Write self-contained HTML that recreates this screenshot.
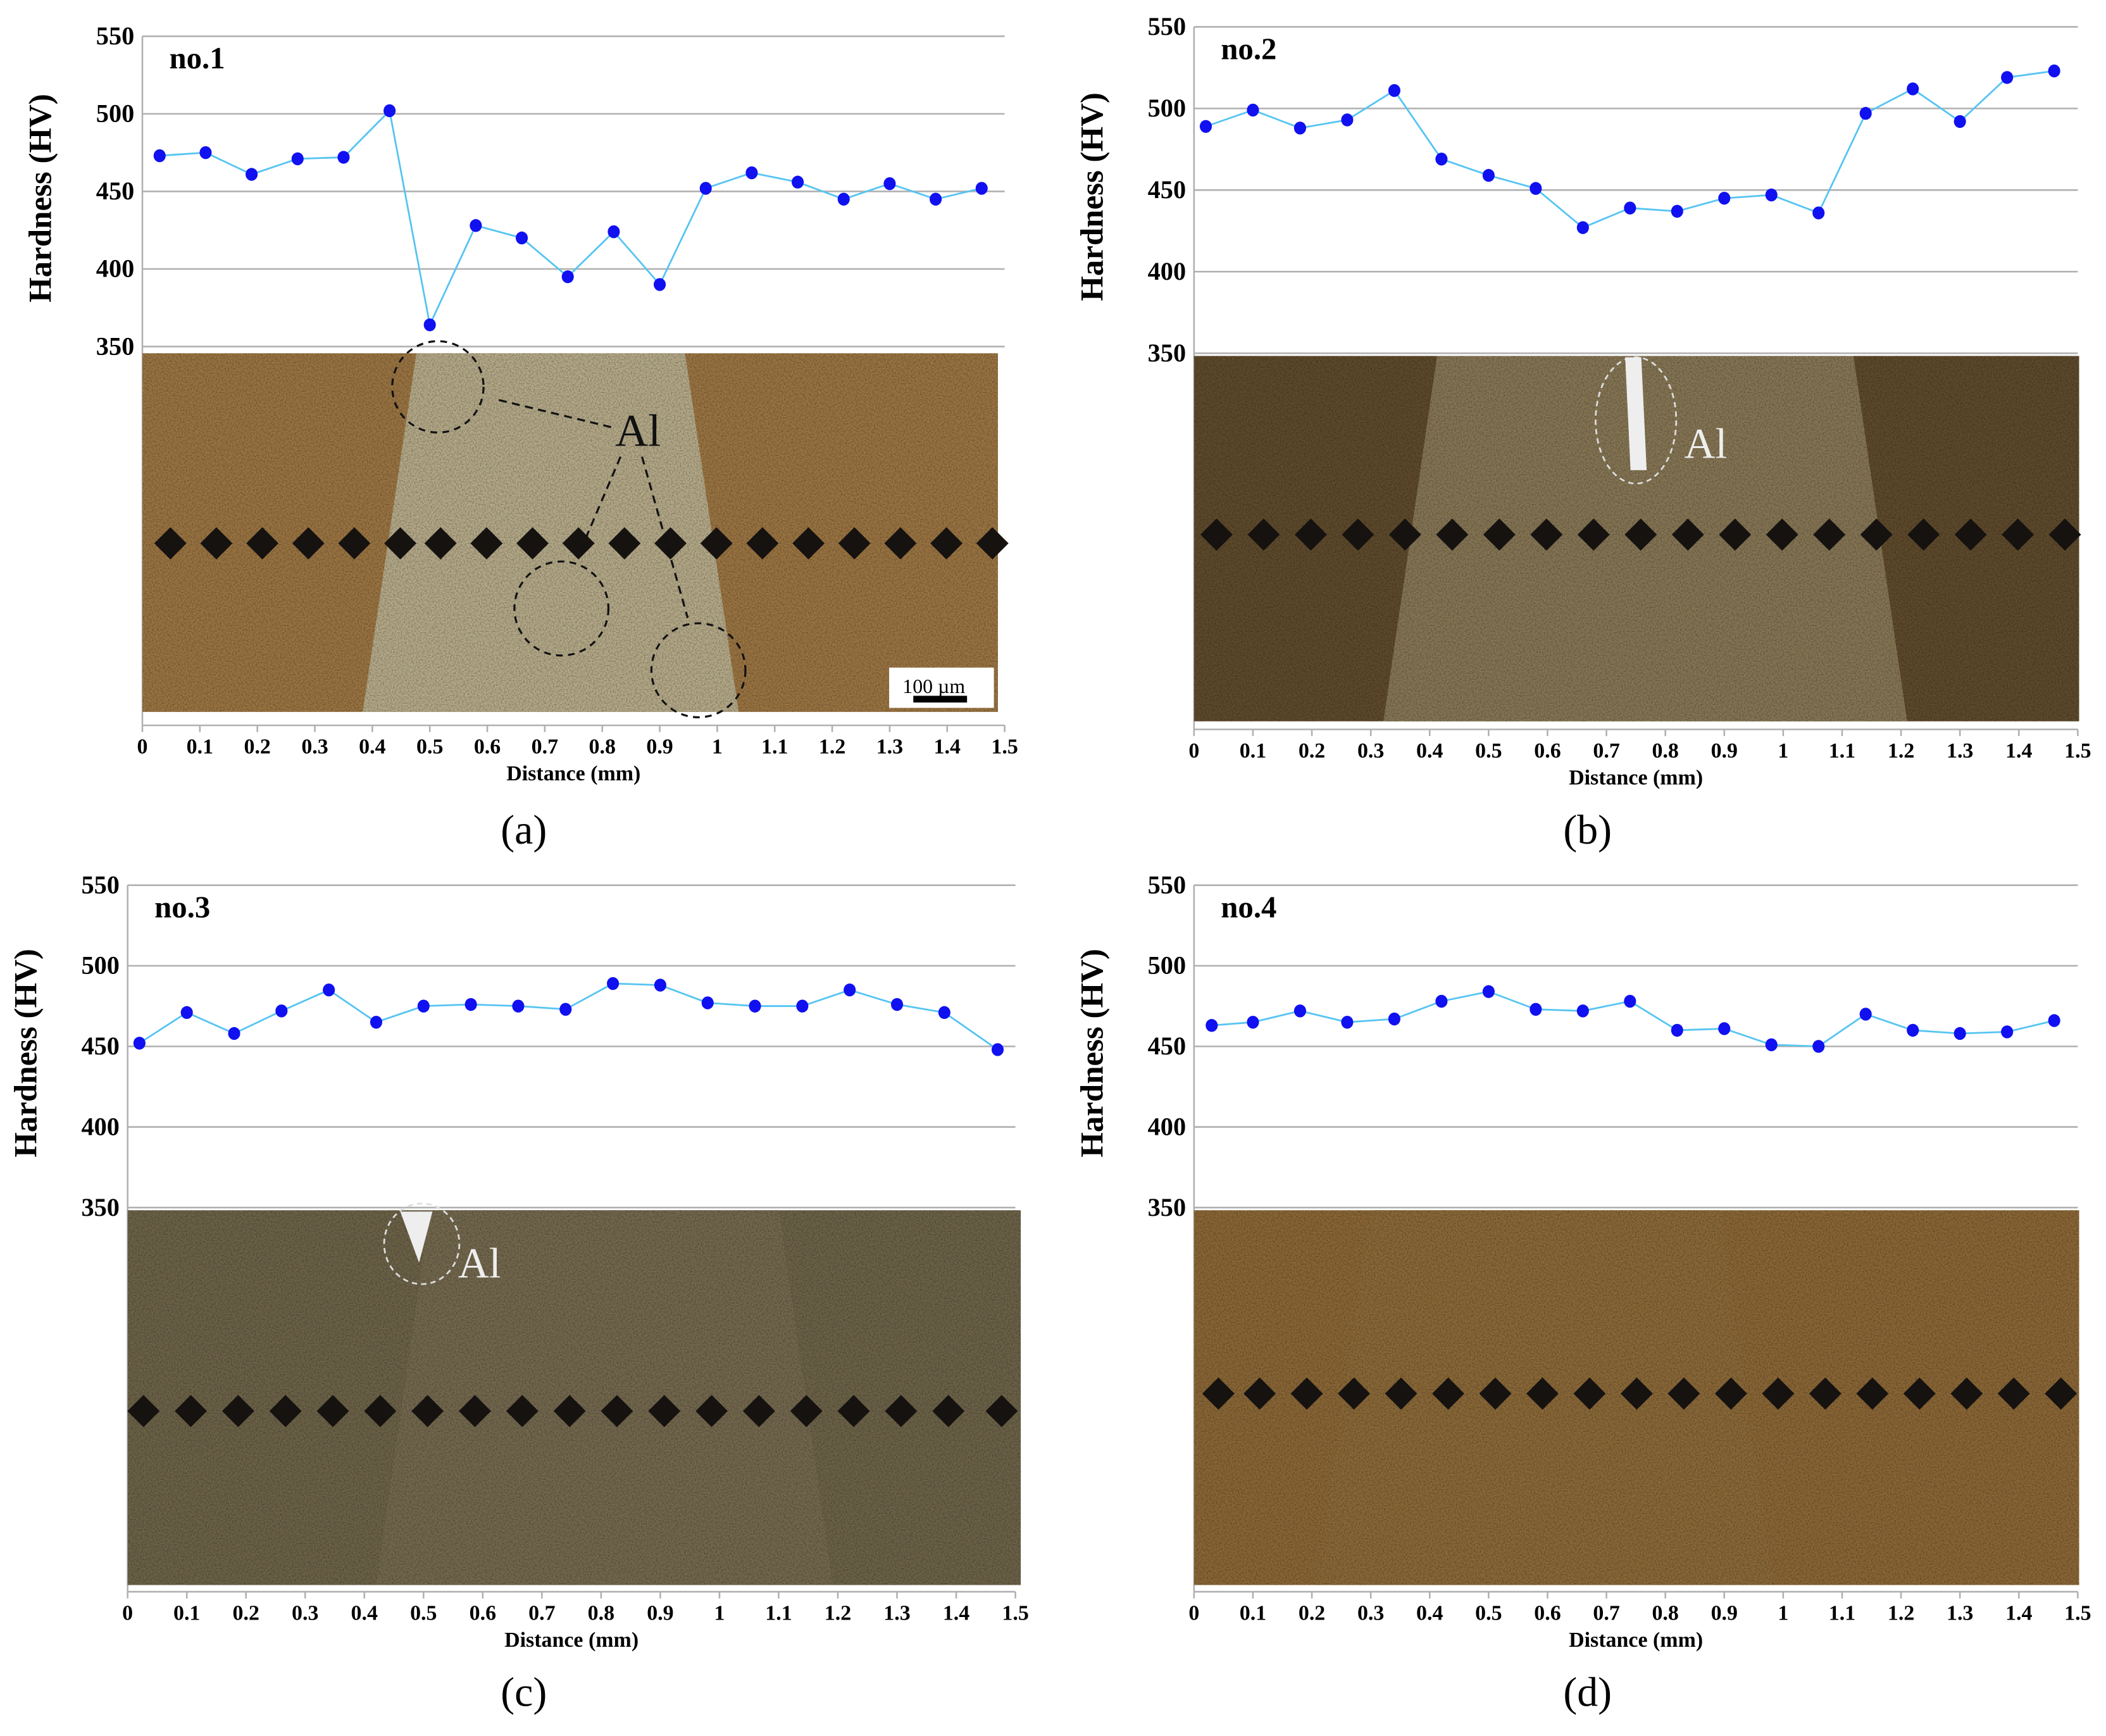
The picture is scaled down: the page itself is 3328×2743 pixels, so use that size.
<!DOCTYPE html>
<html><head><meta charset="utf-8"><style>
html,body{margin:0;padding:0;background:#fff;}
svg{display:block;}
text{font-family:"Liberation Serif",serif;}
</style></head><body>
<svg id="fig" width="3328" height="2743" viewBox="0 0 1568 1292.4" xmlns="http://www.w3.org/2000/svg">
<defs>
<filter id="grain" x="0" y="0" width="100%" height="100%">
<feTurbulence type="fractalNoise" baseFrequency="0.9" numOctaves="2" seed="3"/>
<feColorMatrix type="matrix" values="0 0 0 0 0  0 0 0 0 0  0 0 0 0 0  0 0 0 1.2 -0.45"/>
<feComposite in2="SourceGraphic" operator="in"/>
</filter>
</defs>
</svg>
<script>
// Panel (a)
const xsA=[0.03,0.11,0.19,0.27,0.35,0.43,0.5,0.58,0.66,0.74,0.82,0.9,0.98,1.06,1.14,1.22,1.3,1.38,1.46];
const valsA=[473,475,461,471,472,502,364,428,420,395,424,390,452,462,456,445,455,445,452];
// Panel (b)
const xsB=[0.02,0.1,0.18,0.26,0.34,0.42,0.5,0.58,0.66,0.74,0.82,0.9,0.98,1.06,1.14,1.22,1.3,1.38,1.46];
const valsB=[489,499,488,493,511,469,459,451,427,439,437,445,447,436,497,512,492,519,523];
// Panel (c)
const xsC=[0.02,0.1,0.18,0.26,0.34,0.42,0.5,0.58,0.66,0.74,0.82,0.9,0.98,1.06,1.14,1.22,1.3,1.38,1.47];
const valsC=[452,471,458,472,485,465,475,476,475,473,489,488,477,475,475,485,476,471,448];
// Panel (d)
const xsD=[0.03,0.1,0.18,0.26,0.34,0.42,0.5,0.58,0.66,0.74,0.82,0.9,0.98,1.06,1.14,1.22,1.3,1.38,1.46];
const valsD=[463,465,472,465,467,478,484,473,472,478,460,461,451,450,470,460,458,459,466];
const yTicks=[550,500,450,400,350];
const xTicks=["0","0.1","0.2","0.3","0.4","0.5","0.6","0.7","0.8","0.9","1","1.1","1.2","1.3","1.4","1.5"];

const NS="http://www.w3.org/2000/svg";
const svg=document.getElementById('fig');
function el(tag,attrs,parent,txt){const e=document.createElementNS(NS,tag);for(const k in attrs)e.setAttribute(k,attrs[k]);if(txt!==undefined)e.textContent=txt;(parent||svg).appendChild(e);return e;}

const panels=[
 {id:'a',title:'no.1',xs:xsA,vals:valsA,x0:106,x1:748,yTop:27,yBot:258,photo:[106,263,743,530],axisY:540,base:'#9a7442',light:'#b8b394',lightX:[290,530],cap:[390,628],dOff:8,dShift:8},
 {id:'b',title:'no.2',xs:xsB,vals:valsB,x0:889,x1:1547,yTop:20,yBot:263,photo:[889,265,1548,537],axisY:543,base:'#5e4a2c',light:'#8c7c5c',lightX:[1050,1400],cap:[1182,628],dOff:-3,dShift:8},
 {id:'c',title:'no.3',xs:xsC,vals:valsC,x0:95,x1:756,yTop:659,yBot:899,photo:[95,901,760,1180],axisY:1185,base:'#6c6248',light:'#746a50',lightX:[300,600],cap:[390,1270],dOff:10,dShift:3},
 {id:'d',title:'no.4',xs:xsD,vals:valsD,x0:889,x1:1547,yTop:659,yBot:899,photo:[889,901,1548,1180],axisY:1185,base:'#8a6636',light:'#8a6838',lightX:[1000,1300],cap:[1182,1270],dOff:-3,dShift:5}
];

panels.forEach(p=>{
 const g=el('g',{});
 
 
 const xS=v=>p.x0+(v/1.5)*(p.x1-p.x0);
 const yS=v=>p.yBot-(v-350)/200*(p.yBot-p.yTop);
 yTicks.forEach(t=>{
  const l=el('line',{x1:p.x0,x2:p.x1,y1:yS(t),y2:yS(t),stroke:'#b0b0b0','stroke-width':1.2},g);
  
  
  const tx=el('text',{x:p.x0-6,y:yS(t)+6,'text-anchor':'end','font-size':19,'font-weight':'bold'},g,String(t));
  
  
 });
 el('line',{x1:p.x0,x2:p.x0,y1:p.yTop,y2:p.axisY,stroke:'#b0b0b0','stroke-width':1.2},g);
 const [px0,py0,px1,py1]=p.photo;
 const ph=el('g',{},g);
 
 
 el('rect',{x:px0,y:py0,width:px1-px0,height:py1-py0,fill:p.base},ph);
 el('polygon',{points:`${p.lightX[0]+20},${py0} ${p.lightX[1]-20},${py0} ${p.lightX[1]+20},${py1} ${p.lightX[0]-20},${py1}`,fill:p.light,opacity:0.85},ph);
 el('rect',{x:px0,y:py0,width:px1-px0,height:py1-py0,fill:'#000',filter:'url(#grain)',opacity:0.5},ph);
 const dy=(py0+py1)/2+p.dOff;
 p.xs.forEach(x=>{
  const cx=xS(x)+p.dShift,s=12;
  const d=el('polygon',{points:`${cx},${dy-s} ${cx+s},${dy} ${cx},${dy+s} ${cx-s},${dy}`,fill:'#151210'},ph);
  
  
 });
 el('line',{x1:p.x0,x2:p.x1,y1:p.axisY,y2:p.axisY,stroke:'#b0b0b0','stroke-width':1.2},g);
 xTicks.forEach((t,i)=>{
  const x=xS(i*0.1);
  el('line',{x1:x,x2:x,y1:p.axisY,y2:p.axisY+5,stroke:'#b0b0b0','stroke-width':1.2},g);
  const tx=el('text',{x:x,y:p.axisY+21,'text-anchor':'middle','font-size':16,'font-weight':'bold'},g,t);
  
  
 });
 const xt=el('text',{x:(p.x0+p.x1)/2,y:p.axisY+41,'text-anchor':'middle','font-size':16,'font-weight':'bold'},g,'Distance  (mm)');
 
 
 const ytx=p.x0-68, yty=(p.yTop+p.yBot)/2+5;
 const yt=el('text',{x:ytx,y:yty,'text-anchor':'middle','font-size':24,'font-weight':'bold',transform:`rotate(-90 ${ytx} ${yty})`},g,'Hardness (HV)');
 
 
 const ti=el('text',{x:p.x0+20,y:p.yTop+24,'font-size':23,'font-weight':'bold'},g,p.title);
 
 
 const pts=p.xs.map((x,i)=>xS(x)+','+yS(p.vals[i])).join(' ');
 const pl=el('polyline',{points:pts,fill:'none',stroke:'#55c4f2','stroke-width':1.3},g);
 
 
 p.xs.forEach((x,i)=>{
  const c=el('ellipse',{cx:xS(x),cy:yS(p.vals[i]),rx:4.5,ry:4.8,fill:'#1010f0'},g);
  
  
 });
 const cap=el('text',{x:p.cap[0],y:p.cap[1],'text-anchor':'middle','font-size':31},g,'('+p.id+')');
 
 
});

function txt(x,y,s,size,fill,name){const t=el('text',{x:x,y:y,'font-size':size,fill:fill},svg,s);return t;}
txt(458,332,'Al',34,'#111','al-label-a');
txt(1254,341,'Al',32,'#eee','al-label-b');
txt(341,951,'Al',32,'#eee','al-label-c');
[[326,288,34],[418,453,35],[520,499,35]].forEach(c=>{el('circle',{cx:c[0],cy:c[1],r:c[2],fill:'none',stroke:'#111','stroke-width':1.5,'stroke-dasharray':'5,4'});});
el('path',{d:'M455 318 L368 297 M462 340 L430 415 M478 340 L512 460',stroke:'#111','stroke-width':1.5,'stroke-dasharray':'6,4',fill:'none'});
el('ellipse',{cx:1218,cy:313,rx:30,ry:47,fill:'none',stroke:'#ddd','stroke-width':1.3,'stroke-dasharray':'4,3'});
el('path',{d:'M1210 266 L1222 266 L1226 350 L1214 350 Z',fill:'#eee'});
el('ellipse',{cx:314,cy:926,rx:28,ry:30,fill:'none',stroke:'#ddd','stroke-width':1.3,'stroke-dasharray':'4,3'});
el('path',{d:'M298 902 L322 902 L312 940 Z',fill:'#eee'});
const sb=el('rect',{x:662,y:497,width:78,height:30,fill:'#fff'});


txt(672,516,'100 µm',15,'#000','scale-bar-label');
el('rect',{x:680,y:518,width:40,height:5,fill:'#000'});
</script>
</body></html>
